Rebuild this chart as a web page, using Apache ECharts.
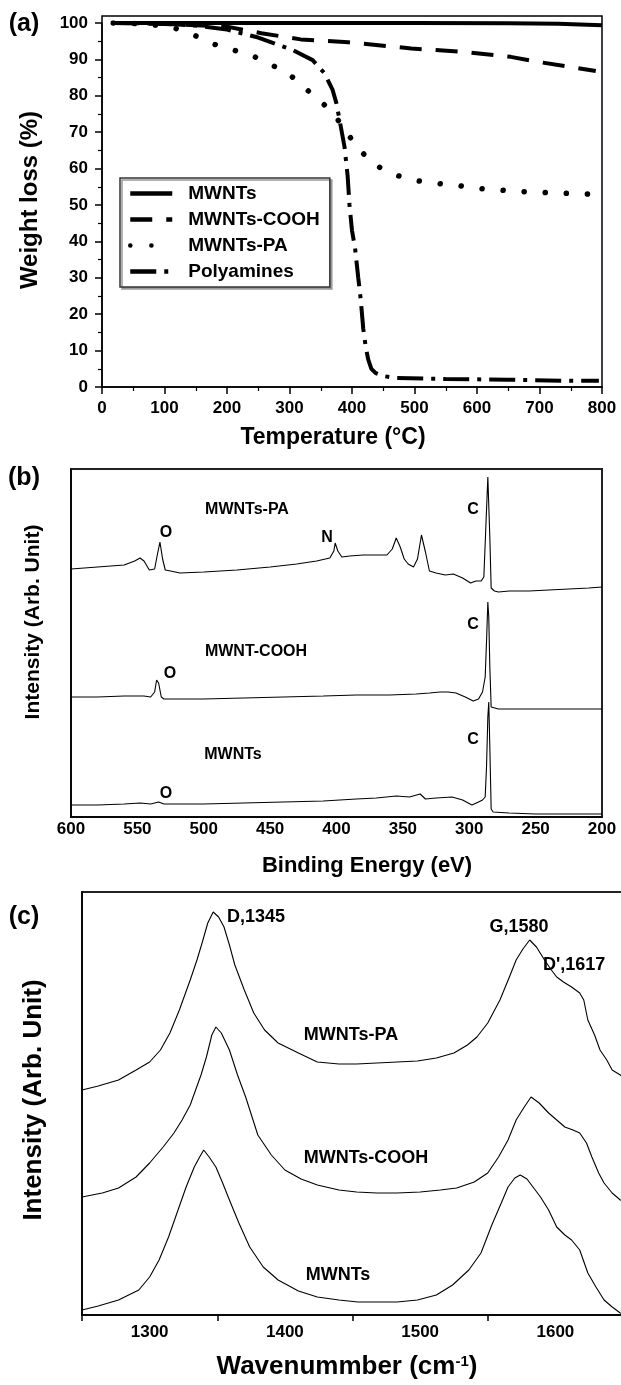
<!DOCTYPE html>
<html>
<head>
<meta charset="utf-8">
<script src="https://cdn.jsdelivr.net/npm/echarts@6.0.0/dist/echarts.min.js"></script>
<style>
  html, body { margin: 0; padding: 0; background: #fff; }
  #chart { width: 621px; height: 1385px; }
</style>
</head>
<body>
<div id="chart"></div>
<script>
// (a) TGA: temperature (°C) / weight (%)
const tgaMwntT = [18, 100, 200, 300, 400, 500, 650, 730, 800];
const tgaMwntW = [100, 100, 100, 100, 100, 100, 99.9, 99.8, 99.4];
const tgaCoohT = [18, 60, 100, 150, 200, 255, 318, 394, 495, 578, 654, 698, 755, 790];
const tgaCoohW = [100, 99.9, 99.7, 99.4, 99.0, 97.2, 95.5, 94.7, 93.0, 92.1, 90.7, 89.3, 87.8, 86.8];
const tgaPaT = [18, 60, 100, 122, 147, 175, 210, 242, 261, 299, 327, 362, 381, 404, 432, 467, 495, 530, 565, 597, 635, 670, 711, 777, 795];
const tgaPaW = [100, 99.8, 99.2, 98.3, 96.7, 94.4, 92.6, 90.9, 89.4, 86.0, 81.8, 76.6, 72.6, 66.9, 61.4, 58.4, 56.9, 56.0, 55.5, 54.6, 54.1, 53.7, 53.4, 53.0, 52.9];
const tgaPolyT = [18, 100, 150, 200, 250, 305, 337, 356, 369, 375, 381, 388, 393, 396, 400, 405, 410, 414, 418, 422, 426, 431, 438, 450, 470, 550, 650, 750, 795];
const tgaPolyW = [100, 99.8, 99.3, 98.2, 96.0, 92.6, 89.8, 86.2, 81.6, 78.0, 72.5, 66.0, 58.0, 50.0, 43.0, 38.0, 30.0, 24.0, 16.0, 11.0, 7.5, 5.0, 3.8, 3.0, 2.5, 2.2, 2.0, 1.7, 1.7];

// (b) XPS: binding energy (eV) / intensity (arb.)
const xpsPaEv = [600, 590, 580, 570, 560, 552, 548, 545, 541, 537, 535, 533, 531, 529, 525, 518, 500, 475, 450, 430, 415, 405, 402, 401, 399, 396, 390, 380, 370, 362, 358, 355, 352, 349, 346, 342, 339, 336, 333, 330, 325, 318, 312, 305, 299, 295, 291, 289, 287.5, 286, 284.5, 283.5, 281, 278, 270, 255, 240, 225, 210, 200];
const xpsPa = [248, 249, 250, 251, 252, 256, 259, 256, 247, 248, 262, 275, 258, 247, 246, 244, 245, 247, 250, 253, 256, 259, 266, 274, 266, 260, 261, 262, 262, 262, 268, 279, 270, 258, 253, 250, 258, 282, 265, 246, 244, 242, 243, 239, 234, 236, 236, 240, 290, 340, 280, 229, 226, 225, 226, 226, 227, 228, 229, 230];
const xpsCoohEv = [600, 580, 560, 545, 540, 537, 535.5, 534, 532, 530, 520, 500, 470, 440, 410, 385, 360, 340, 330, 322, 316, 310, 303, 297, 293, 290, 288, 287, 286, 285.3, 284.5, 283.5, 282, 278, 260, 240, 220, 200];
const xpsCooh = [120, 120, 121, 121, 120, 125, 137, 134, 120, 118, 118, 118, 119, 120, 121, 122, 122, 123, 124, 125, 125, 124, 120, 116, 118, 125, 140, 175, 215, 200, 150, 110, 108, 108, 108, 108, 108, 108];
const xpsMwntEv = [600, 580, 560, 548, 540, 534, 530, 520, 500, 470, 440, 410, 385, 370, 355, 345, 337, 333, 325, 313, 305, 298, 293, 290, 288, 287, 286, 285.3, 284.5, 283.5, 282, 270, 250, 230, 200];
const xpsMwnt = [12, 12, 13, 14, 13, 15, 13, 13, 13, 14, 15, 16, 18, 19, 21, 20, 23, 18, 19, 20, 17, 12, 15, 17, 20, 50, 100, 115, 70, 8, 5, 4, 3, 3, 3];

// (c) Raman: wavenumber (cm-1) / intensity (arb.)
const ramPaWn = [1250, 1262, 1277, 1290, 1300, 1308, 1315, 1322, 1330, 1335, 1339, 1343, 1347, 1351, 1355, 1359, 1363, 1370, 1377, 1385, 1395, 1410, 1424, 1440, 1453, 1468, 1483, 1498, 1512, 1525, 1535, 1542, 1550, 1559, 1566, 1571, 1576, 1581, 1586, 1592, 1597, 1601, 1606, 1612, 1618, 1621, 1624, 1629, 1633, 1638, 1642, 1648, 1650];
const ramPa = [225, 229, 235, 245, 253, 265, 282, 305, 335, 355, 373, 392, 403, 398, 388, 370, 350, 325, 302, 285, 272, 262, 253, 251, 251, 252, 253, 254, 257, 262, 270, 278, 292, 315, 338, 355, 366, 375, 368, 355, 345, 338, 333, 328, 322, 315, 295, 280, 265, 255, 245, 240, 238];
const ramCoohWn = [1250, 1265, 1277, 1290, 1300, 1310, 1318, 1324, 1330, 1334, 1338, 1342, 1346, 1349, 1353, 1359, 1365, 1371, 1380, 1390, 1400, 1412, 1424, 1440, 1453, 1468, 1483, 1500, 1515, 1527, 1540, 1550, 1558, 1565, 1571, 1577, 1582, 1588, 1595, 1601, 1607, 1613, 1618, 1623, 1627, 1632, 1636, 1642, 1648, 1650];
const ramCooh = [118, 122, 127, 138, 152, 168, 182, 195, 210, 225, 240, 258, 280, 288, 282, 265, 240, 218, 180, 160, 145, 136, 130, 125, 123, 122, 122, 123, 125, 127, 133, 142, 158, 175, 195, 208, 218, 212, 202, 195, 188, 185, 182, 172, 158, 142, 132, 122, 115, 114];
const ramMwntWn = [1250, 1262, 1277, 1292, 1300, 1307, 1314, 1321, 1327, 1333, 1337, 1340, 1344, 1349, 1354, 1359, 1366, 1374, 1384, 1395, 1410, 1424, 1440, 1454, 1468, 1483, 1498, 1512, 1524, 1536, 1545, 1553, 1560, 1565, 1570, 1574, 1579, 1584, 1589, 1595, 1601, 1607, 1612, 1618, 1624, 1630, 1636, 1642, 1648, 1650];
const ramMwnt = [5, 9, 15, 25, 38, 55, 78, 105, 128, 148, 158, 165, 158, 148, 132, 115, 92, 68, 48, 35, 24, 18, 15, 13, 13, 13, 15, 20, 30, 45, 62, 90, 112, 128, 137, 140, 136, 127, 118, 105, 88, 80, 75, 65, 42, 28, 15, 8, 2, 1];

const FONT = '"Liberation Sans", Arial, sans-serif';
const BLACK = '#000';

function pairs(xs, ys) {
  return xs.map((x, i) => [x, ys[i]]);
}

function lab(size, margin) {
  return { fontFamily: FONT, fontWeight: 'bold', fontSize: size, color: BLACK, margin: margin };
}

function txt(x, y, s, size, align, rot) {
  return {
    type: 'text', x: x, y: y, rotation: rot || 0, z: 10,
    style: {
      text: s, fill: BLACK,
      font: 'bold ' + size + 'px ' + FONT,
      textAlign: align || 'center', textVerticalAlign: 'middle'
    }
  };
}

function lineSeries(name, xi, data, style) {
  return {
    name: name, type: 'line', xAxisIndex: xi, yAxisIndex: xi,
    data: data, symbol: 'none', showSymbol: false, smooth: false,
    lineStyle: Object.assign({ color: BLACK, width: 1.1 }, style),
    itemStyle: { color: BLACK },
    emphasis: { disabled: true }
  };
}

const chart = echarts.init(document.getElementById('chart'));

const axLine = { show: true, lineStyle: { color: BLACK, width: 1.5 } };

const option = {
  animation: false,
  backgroundColor: '#fff',
  grid: [
    { left: 102, top: 23, width: 500, height: 364, outerBoundsMode: 'none' },
    { left: 71, top: 469, width: 531, height: 348, show: true, borderColor: '#222', borderWidth: 2, outerBoundsMode: 'none' },
    { left: 82, top: 892, width: 541, height: 423, show: true, borderColor: '#222', borderWidth: 2, outerBoundsMode: 'none' }
  ],
  legend: {
    data: ['MWNTs', 'MWNTs-COOH', 'MWNTs-PA', 'Polyamines'],
    orient: 'vertical', left: 120, top: 178,
    itemWidth: 42, itemHeight: 14, itemGap: 7,
    padding: [6, 10, 6, 8],
    borderColor: '#333', borderWidth: 1.5, backgroundColor: '#fff',
    shadowColor: '#999', shadowOffsetX: 2, shadowOffsetY: 2, shadowBlur: 0,
    selectedMode: false,
    // hide the marker symbol, keep only the styled line
    itemStyle: { opacity: 0 },
    lineStyle: { width: 4.5 },
    textStyle: { fontFamily: FONT, fontWeight: 'bold', fontSize: 19, color: BLACK, padding: [0, 0, 0, 11] }
  },
  xAxis: [
    {
      gridIndex: 0, type: 'value', min: 0, max: 800, interval: 100,
      axisLine: axLine,
      axisTick: { show: true, length: 7, lineStyle: { color: BLACK, width: 1.5 } },
      minorTick: { show: true, splitNumber: 2, length: 4, lineStyle: { color: BLACK, width: 1.2 } },
      axisLabel: lab(17, 13),
      splitLine: { show: false }
    },
    {
      gridIndex: 1, type: 'value', min: 200, max: 600, interval: 50, inverse: true,
      axisLine: axLine,
      axisTick: { show: false },
      axisLabel: lab(17, 4),
      splitLine: { show: false }
    },
    {
      gridIndex: 2, type: 'value', min: 1250, max: 1650, interval: 50,
      axisLine: axLine,
      axisTick: { show: true, length: 6, customValues: [1250, 1350, 1450, 1550, 1650], lineStyle: { color: BLACK, width: 1.5 } },
      axisLabel: Object.assign(lab(17, 9), {
        customValues: [1300, 1400, 1500, 1600],
        formatter: v => (v % 100 === 0 ? String(v) : '')
      }),
      splitLine: { show: false }
    }
  ],
  yAxis: [
    {
      gridIndex: 0, type: 'value', min: 0, max: 100, interval: 10,
      axisLine: axLine,
      axisTick: { show: true, length: 7, lineStyle: { color: BLACK, width: 1.5 } },
      minorTick: { show: true, splitNumber: 2, length: 4, lineStyle: { color: BLACK, width: 1.2 } },
      axisLabel: lab(17, 14),
      splitLine: { show: false }
    },
    {
      gridIndex: 1, type: 'value', min: 0, max: 348,
      axisLine: axLine, axisTick: { show: false }, axisLabel: { show: false }, splitLine: { show: false }
    },
    {
      gridIndex: 2, type: 'value', min: 0, max: 423,
      axisLine: axLine, axisTick: { show: false }, axisLabel: { show: false }, splitLine: { show: false }
    }
  ],
  series: [
    lineSeries('MWNTs', 0, pairs(tgaMwntT, tgaMwntW), { width: 4 }),
    lineSeries('MWNTs-COOH', 0, pairs(tgaCoohT, tgaCoohW), { width: 4, type: [22, 14] }),
    lineSeries('MWNTs-PA', 0, pairs(tgaPaT, tgaPaW), { width: 5.5, type: [0.1, 21], cap: 'round' }),
    lineSeries('Polyamines', 0, pairs(tgaPolyT, tgaPolyW), { width: 4, type: [26, 8, 4, 8] }),

    lineSeries('xps-pa', 1, pairs(xpsPaEv, xpsPa), {}),
    lineSeries('xps-cooh', 1, pairs(xpsCoohEv, xpsCooh), {}),
    lineSeries('xps-mwnt', 1, pairs(xpsMwntEv, xpsMwnt), {}),

    lineSeries('ram-pa', 2, pairs(ramPaWn, ramPa), {}),
    lineSeries('ram-cooh', 2, pairs(ramCoohWn, ramCooh), {}),
    lineSeries('ram-mwnt', 2, pairs(ramMwntWn, ramMwnt), {})
  ],
  graphic: [
    // frame of panel (a)
    {
      type: 'rect', z: 5, silent: true,
      shape: { x: 102, y: 16, width: 500, height: 371 },
      style: { fill: 'none', stroke: BLACK, lineWidth: 1.5 }
    },
    txt(24, 24, '(a)', 25),
    txt(24, 478, '(b)', 25),
    txt(24, 917, '(c)', 25),

    txt(30, 200, 'Weight loss (%)', 24, 'center', Math.PI / 2),
    txt(333, 438, 'Temperature (°C)', 23),

    txt(33, 622, 'Intensity (Arb. Unit)', 21, 'center', Math.PI / 2),
    txt(367, 866, 'Binding Energy (eV)', 22),
    txt(247, 510, 'MWNTs-PA', 16),
    txt(473, 510, 'C', 16),
    txt(166, 533, 'O', 16),
    txt(327, 538, 'N', 16),
    txt(473, 625, 'C', 16),
    txt(256, 652, 'MWNT-COOH', 16),
    txt(170, 674, 'O', 16),
    txt(473, 740, 'C', 16),
    txt(233, 755, 'MWNTs', 16),
    txt(166, 794, 'O', 16),

    txt(34, 1100, 'Intensity (Arb. Unit)', 26, 'center', Math.PI / 2),
    {
      type: 'text', x: 347, y: 1367, z: 10,
      style: {
        text: '{a|Wavenummber (cm}{s|-1}{a|)}',
        textAlign: 'center', textVerticalAlign: 'middle',
        rich: {
          a: { fontFamily: FONT, fontWeight: 'bold', fontSize: 26, fill: BLACK, verticalAlign: 'bottom' },
          s: { fontFamily: FONT, fontWeight: 'bold', fontSize: 15, fill: BLACK, verticalAlign: 'top' }
        }
      }
    },
    txt(227, 917, 'D,1345', 18, 'left'),
    txt(519, 927, 'G,1580', 18),
    txt(543, 965, "D',1617", 18, 'left'),
    txt(351, 1035, 'MWNTs-PA', 18),
    txt(366, 1158, 'MWNTs-COOH', 18),
    txt(338, 1275, 'MWNTs', 18)
  ]
};

chart.setOption(option);
</script>
</body>
</html>
